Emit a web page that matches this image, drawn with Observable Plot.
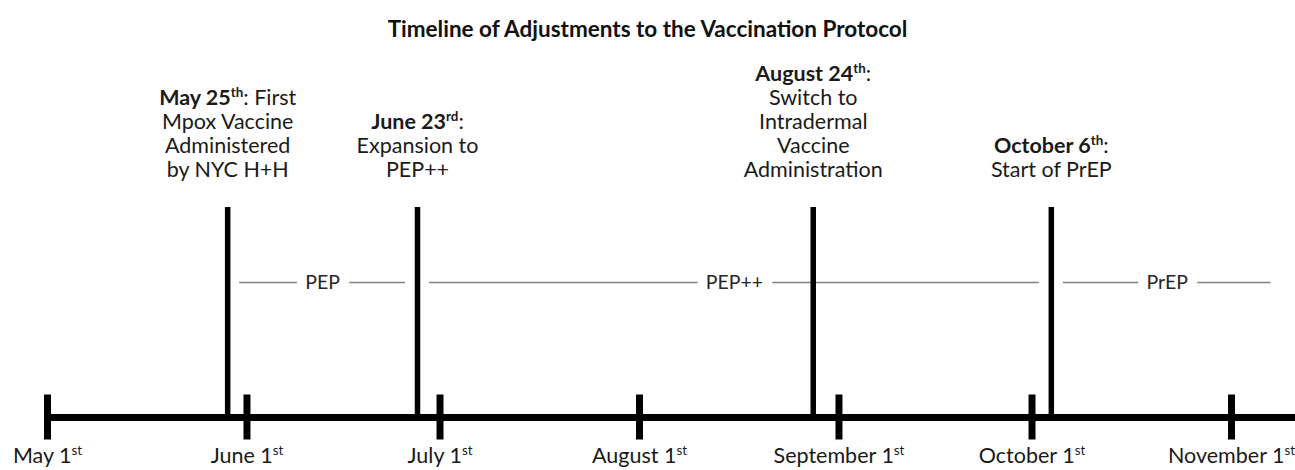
<!DOCTYPE html>
<html><head><meta charset="utf-8">
<script src="https://cdn.jsdelivr.net/npm/d3@7"></script>
<script src="https://cdn.jsdelivr.net/npm/@observablehq/plot@0.6"></script>
<style>
body{margin:0;background:#fff;}
#title{height:50px;box-sizing:border-box;padding-top:15px;text-align:center;font-family:Lato,sans-serif;font-weight:bold;font-size:22.5px;line-height:28px;color:#111;}
#chart svg{display:block;}
</style></head><body>
<div id="title">Timeline of Adjustments to the Vaccination Protocol</div>
<div id="chart"></div>
<script>
// Month ticks on the timeline
const monthTicks = ["2022-05-01","2022-06-01","2022-07-01","2022-08-01","2022-09-01","2022-10-01","2022-11-01"];
const monthLabels = ["May 1^st","June 1^st","July 1^st","August 1^st","September 1^st","October 1^st","November 1^st"];
// Events (positions as drawn in the picture)
const eventDates = ["2022-05-29T00:00Z","2022-06-27T12:00Z","2022-08-28T00:00Z","2022-10-04T00:00Z"];
const eventLabels = [
  "**May 25^th**: First\nMpox Vaccine\nAdministered\nby NYC H+H",
  "**June 23^rd**:\nExpansion to\nPEP++",
  "**August 24^th**:\nSwitch to\nIntradermal\nVaccine\nAdministration",
  "**October 6^th**:\nStart of PrEP"
];
// Protocol periods
const periodLabels = ["PEP","PEP++","PrEP"];
const periodStarts = ["2022-05-29T00:00Z","2022-06-27T12:00Z","2022-10-04T00:00Z"];
const periodEnds = ["2022-06-27T12:00Z","2022-10-04T00:00Z","2022-11-09T00:00Z"];

// vertical levels (in timeline units)
const axisLevel = 0, tickHalf = 1, eventTop = 9.33, eventLabelLevel = 10.71, periodLevel = 6, monthLabelLevel = -2.04;

const events = eventDates.map((d,i)=>({date:new Date(d), label:eventLabels[i]}));
const periods = periodLabels.map((l,i)=>{
  const s = new Date(periodStarts[i]), e = new Date(periodEnds[i]);
  return {label:l, start:s, end:e, mid:new Date((+s + +e)/2)};
});
const months = monthTicks.map((d,i)=>({date:new Date(d+"T00:00Z"), label:monthLabels[i]}));

const U = 22.5;
const chart = Plot.plot({
  width: 1295, height: 420, margin: 0,
  x: {type:"utc", domain:[months[0].date, months[months.length-1].date], range:[47,1231], axis:null},
  y: {domain:[-53/U, 367/U], range:[420,0], axis:null},
  style: {fontFamily:"Lato, sans-serif", background:"white"},
  marks: [
    Plot.ruleY(periods, {x1:"start", x2:"end", y:()=>periodLevel, stroke:"#7f7f7f", strokeWidth:1.3, insetLeft:12, insetRight:12}),
    Plot.text(periods, {x:"mid", y:()=>periodLevel, text:"label", fontSize:19.5, fill:"#262626", stroke:"white", strokeWidth:20}),
    Plot.ruleY([axisLevel], {x1:()=>months[0].date, x2:()=>new Date("2022-11-25T00:00Z"), stroke:"black", strokeWidth:7}),
    Plot.ruleX(months, {x:"date", y1:()=>-tickHalf, y2:()=>tickHalf, stroke:"black", strokeWidth:7}),
    Plot.ruleX(events, {x:"date", y1:()=>axisLevel, y2:()=>eventTop, stroke:"black", strokeWidth:5.5}),
    Plot.text(events, {x:"date", y:()=>eventLabelLevel, text:"label", lineAnchor:"bottom", lineHeight:24/21.5, fontSize:21.5, fill:"#1a1a1a"}),
    Plot.text(months, {x:"date", y:()=>monthLabelLevel, text:"label", lineAnchor:"bottom", fontSize:21.5, fill:"#1a1a1a"})
  ]
});

// Rich text: **bold** and ^sup
function enrich(el){
  const s = el.textContent;
  if (!/[\*\^]/.test(s)) return;
  const segs = []; let bold = false; let i = 0; let buf = "";
  const flush = (sup)=>{ if (buf) segs.push({t:buf, bold, sup:!!sup}); buf=""; };
  while (i < s.length){
    if (s.startsWith("**", i)) { flush(); bold = !bold; i += 2; continue; }
    if (s[i] === "^") { flush(); i++; let j=i; while (j<s.length && /[a-z]/.test(s[j])) j++; buf = s.slice(i,j); flush(true); i=j; continue; }
    buf += s[i]; i++;
  }
  flush();
  el.textContent = "";
  for (const sg of segs){
    const t = document.createElementNS("http://www.w3.org/2000/svg","tspan");
    t.textContent = sg.t;
    if (sg.bold) t.setAttribute("font-weight","bold");
    if (sg.sup){ t.setAttribute("font-size","62%"); t.setAttribute("baseline-shift","8"); }
    el.appendChild(t);
  }
}
chart.querySelectorAll("text").forEach(txt=>{
  const lines = Array.from(txt.children).filter(c=>c.tagName==="tspan");
  if (lines.length) lines.forEach(enrich); else enrich(txt);
});
document.getElementById("chart").appendChild(chart);
</script>
</body></html>
